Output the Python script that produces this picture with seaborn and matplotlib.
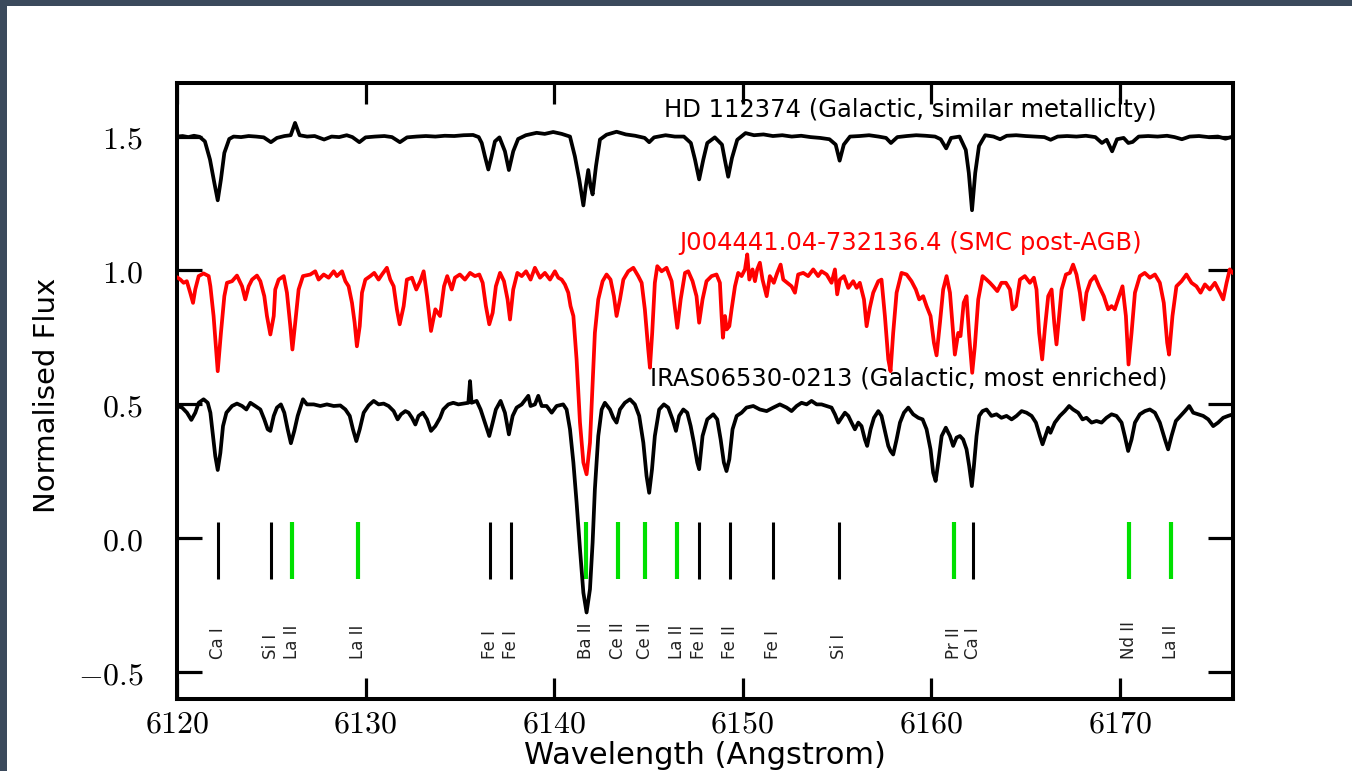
import numpy as np
import pandas as pd
import matplotlib
matplotlib.use("Agg")
import matplotlib.pyplot as plt
from matplotlib.patches import Rectangle
import seaborn as sns

# ---------------------------------------------------------------- data
# HD 112374 (Galactic, similar metallicity), shifted to 1.5
hd_wave = [6120.0, 6120.3, 6120.6, 6120.9, 6121.2, 6121.48, 6121.75, 6121.98, 6122.16, 6122.33,
           6122.51, 6122.77, 6123.0, 6123.4, 6123.8, 6124.2, 6124.6, 6124.98, 6125.3, 6125.7,
           6126.03, 6126.26, 6126.5, 6126.9, 6127.3, 6127.8, 6128.2, 6128.6, 6129.0, 6129.3,
           6129.67, 6130.0, 6130.5, 6131.0, 6131.4, 6131.82, 6132.2, 6132.7, 6133.2, 6133.7,
           6134.2, 6134.7, 6135.2, 6135.7, 6136.0, 6136.16, 6136.33, 6136.51, 6136.68, 6136.86,
           6137.1, 6137.39, 6137.6, 6137.83, 6138.09, 6138.5, 6139.07, 6139.5, 6139.95, 6140.4,
           6140.84, 6141.1, 6141.33, 6141.55, 6141.68, 6141.81, 6141.93, 6142.04, 6142.22, 6142.43,
           6142.78, 6143.31, 6143.8, 6144.3, 6144.8, 6145.04, 6145.3, 6145.91, 6146.4, 6146.88,
           6147.25, 6147.47, 6147.69, 6147.91, 6148.12, 6148.52, 6148.9, 6149.05, 6149.23, 6149.43,
           6149.71, 6150.15, 6150.6, 6151.1, 6151.6, 6152.1, 6152.6, 6153.1, 6153.6, 6154.1,
           6154.6, 6154.93, 6155.14, 6155.36, 6155.69, 6156.2, 6156.7, 6157.2, 6157.6, 6157.86,
           6158.2, 6158.7, 6159.2, 6159.7, 6160.2, 6160.5, 6160.79, 6161.05, 6161.5, 6161.83,
           6161.99, 6162.16, 6162.33, 6162.53, 6162.86, 6163.3, 6163.65, 6164.0, 6164.5, 6165.0,
           6165.5, 6166.0, 6166.33, 6166.7, 6167.2, 6167.7, 6168.2, 6168.7, 6169.05, 6169.3,
           6169.59, 6169.85, 6170.2, 6170.45, 6170.68, 6171.0, 6171.5, 6172.0, 6172.5, 6172.9,
           6173.29, 6173.7, 6174.2, 6174.7, 6175.2, 6175.6, 6176.0]
hd_flux = [1.500, 1.502, 1.498, 1.503, 1.499, 1.482, 1.414, 1.327, 1.262, 1.340,
           1.439, 1.491, 1.500, 1.498, 1.502, 1.500, 1.497, 1.479, 1.495, 1.502,
           1.505, 1.551, 1.505, 1.500, 1.502, 1.489, 1.500, 1.498, 1.505, 1.498,
           1.479, 1.497, 1.500, 1.502, 1.498, 1.479, 1.497, 1.500, 1.502, 1.500,
           1.503, 1.502, 1.505, 1.506, 1.498, 1.476, 1.426, 1.377, 1.426, 1.482,
           1.497, 1.445, 1.375, 1.445, 1.491, 1.505, 1.514, 1.510, 1.517, 1.510,
           1.500, 1.426, 1.340, 1.243, 1.315, 1.375, 1.315, 1.284, 1.390, 1.489,
           1.507, 1.518, 1.508, 1.503, 1.495, 1.479, 1.497, 1.505, 1.500, 1.500,
           1.476, 1.414, 1.340, 1.414, 1.476, 1.497, 1.470, 1.414, 1.350, 1.420,
           1.488, 1.513, 1.505, 1.508, 1.502, 1.505, 1.500, 1.503, 1.498, 1.495,
           1.490, 1.470, 1.410, 1.470, 1.500, 1.502, 1.505, 1.500, 1.495, 1.476,
           1.498, 1.502, 1.505, 1.503, 1.500, 1.490, 1.456, 1.495, 1.500, 1.450,
           1.364, 1.225, 1.364, 1.465, 1.505, 1.500, 1.490, 1.503, 1.505, 1.502,
           1.500, 1.498, 1.488, 1.500, 1.502, 1.500, 1.503, 1.498, 1.476, 1.488,
           1.445, 1.490, 1.495, 1.476, 1.480, 1.500, 1.502, 1.500, 1.503, 1.498,
           1.490, 1.500, 1.502, 1.498, 1.500, 1.492, 1.500]

# J004441.04-732136.4 (SMC post-AGB)
smc_wave = [6120.0, 6120.18, 6120.35, 6120.52, 6120.7, 6120.85, 6120.97, 6121.15, 6121.41, 6121.68,
            6121.77, 6121.94, 6122.16, 6122.33, 6122.51, 6122.65, 6122.92, 6123.18, 6123.45, 6123.62,
            6123.8, 6123.98, 6124.24, 6124.42, 6124.63, 6124.77, 6124.95, 6125.13, 6125.21, 6125.39,
            6125.66, 6125.83, 6126.01, 6126.12, 6126.27, 6126.45, 6126.68, 6127.07, 6127.33, 6127.51,
            6127.78, 6128.04, 6128.31, 6128.48, 6128.75, 6128.93, 6129.1, 6129.28, 6129.42, 6129.54,
            6129.69, 6129.81, 6129.99, 6130.25, 6130.46, 6130.69, 6130.87, 6131.13, 6131.31, 6131.49,
            6131.66, 6131.81, 6132.02, 6132.19, 6132.46, 6132.69, 6132.9, 6133.08, 6133.26, 6133.47,
            6133.7, 6133.95, 6134.16, 6134.33, 6134.57, 6134.74, 6135.0, 6135.27, 6135.54, 6135.8,
            6136.03, 6136.21, 6136.38, 6136.56, 6136.74, 6136.91, 6137.13, 6137.34, 6137.53, 6137.66,
            6137.83, 6138.05, 6138.28, 6138.51, 6138.75, 6138.98, 6139.25, 6139.51, 6139.78, 6140.04,
            6140.22, 6140.4, 6140.57, 6140.75, 6140.87, 6141.02, 6141.19, 6141.37, 6141.55, 6141.72,
            6141.9, 6142.04, 6142.16, 6142.34, 6142.57, 6142.78, 6142.99, 6143.17, 6143.31, 6143.49,
            6143.67, 6143.93, 6144.2, 6144.46, 6144.64, 6144.81, 6144.99, 6145.08, 6145.2, 6145.34,
            6145.47, 6145.7, 6145.96, 6146.23, 6146.41, 6146.53, 6146.71, 6146.94, 6147.11, 6147.34,
            6147.55, 6147.69, 6147.87, 6148.08, 6148.35, 6148.61, 6148.79, 6148.88, 6148.95, 6149.06,
            6149.15, 6149.29, 6149.41, 6149.59, 6149.76, 6149.94, 6150.12, 6150.24, 6150.35, 6150.52,
            6150.65, 6150.77, 6150.91, 6151.05, 6151.27, 6151.44, 6151.65, 6151.83, 6152.01, 6152.15,
            6152.36, 6152.59, 6152.77, 6152.94, 6153.21, 6153.47, 6153.74, 6154.0, 6154.18, 6154.45,
            6154.71, 6154.89, 6155.01, 6155.15, 6155.37, 6155.6, 6155.86, 6156.04, 6156.21, 6156.43,
            6156.57, 6156.74, 6156.92, 6157.19, 6157.36, 6157.54, 6157.72, 6157.84, 6157.98, 6158.16,
            6158.42, 6158.69, 6158.95, 6159.18, 6159.36, 6159.57, 6159.75, 6159.96, 6160.14, 6160.28,
            6160.46, 6160.63, 6160.81, 6160.99, 6161.13, 6161.25, 6161.43, 6161.55, 6161.72, 6161.87,
            6162.01, 6162.17, 6162.31, 6162.49, 6162.72, 6162.93, 6163.11, 6163.28, 6163.5, 6163.72,
            6163.96, 6164.17, 6164.31, 6164.49, 6164.7, 6164.96, 6165.23, 6165.44, 6165.58, 6165.72,
            6165.88, 6166.02, 6166.2, 6166.38, 6166.52, 6166.64, 6166.78, 6166.91, 6167.14, 6167.35,
            6167.52, 6167.7, 6167.88, 6168.06, 6168.23, 6168.44, 6168.67, 6168.9, 6169.15, 6169.38,
            6169.56, 6169.73, 6169.96, 6170.14, 6170.32, 6170.46, 6170.62, 6170.8, 6171.06, 6171.32,
            6171.59, 6171.86, 6172.12, 6172.33, 6172.51, 6172.61, 6172.79, 6173.0, 6173.27, 6173.53,
            6173.8, 6174.06, 6174.28, 6174.51, 6174.77, 6175.04, 6175.31, 6175.48, 6175.66, 6175.83,
            6176.0]
smc_flux = [0.975, 0.966, 0.954, 0.960, 0.917, 0.879, 0.930, 0.979, 0.989, 0.979,
            0.941, 0.830, 0.624, 0.767, 0.904, 0.954, 0.960, 0.981, 0.941, 0.892,
            0.941, 0.966, 0.981, 0.960, 0.904, 0.830, 0.761, 0.830, 0.929, 0.966,
            0.979, 0.917, 0.792, 0.705, 0.805, 0.929, 0.979, 0.985, 0.997, 0.966,
            0.985, 0.973, 0.997, 0.979, 0.997, 0.960, 0.941, 0.879, 0.805, 0.717,
            0.792, 0.917, 0.966, 0.979, 0.991, 0.966, 0.985, 1.010, 0.966, 0.941,
            0.855, 0.799, 0.867, 0.966, 0.973, 0.929, 0.960, 0.997, 0.904, 0.774,
            0.855, 0.830, 0.941, 0.979, 0.929, 0.973, 0.985, 0.966, 0.991, 0.979,
            0.985, 0.954, 0.867, 0.799, 0.842, 0.941, 0.991, 0.960, 0.892, 0.817,
            0.929, 0.991, 0.979, 0.997, 0.966, 1.010, 0.973, 0.991, 0.966, 0.997,
            0.973, 0.966, 0.948, 0.917, 0.867, 0.830, 0.668, 0.432, 0.283, 0.239,
            0.357, 0.581, 0.767, 0.892, 0.960, 0.985, 0.966, 0.904, 0.830, 0.892,
            0.966, 0.997, 1.010, 0.979, 0.954, 0.855, 0.705, 0.637, 0.767, 0.954,
            1.016, 0.997, 1.010, 0.960, 0.855, 0.786, 0.892, 0.991, 0.997, 0.960,
            0.904, 0.805, 0.892, 0.960, 0.979, 0.985, 0.954, 0.830, 0.749, 0.830,
            0.780, 0.792, 0.855, 0.941, 0.991, 0.979, 1.004, 1.060, 0.966, 1.004,
            0.960, 1.004, 1.029, 0.966, 0.904, 0.979, 0.954, 0.991, 1.022, 0.966,
            0.954, 0.941, 0.917, 0.985, 0.991, 0.979, 1.004, 0.979, 0.997, 0.985,
            0.954, 1.004, 0.911, 0.966, 0.979, 0.935, 0.960, 0.935, 0.954, 0.892,
            0.792, 0.861, 0.917, 0.960, 0.966, 0.830, 0.668, 0.624, 0.767, 0.917,
            0.991, 0.985, 0.960, 0.929, 0.892, 0.904, 0.867, 0.830, 0.730, 0.683,
            0.805, 0.929, 0.979, 0.917, 0.792, 0.686, 0.767, 0.755, 0.880, 0.904,
            0.755, 0.618, 0.717, 0.892, 0.979, 0.966, 0.954, 0.941, 0.923, 0.954,
            0.954, 0.929, 0.855, 0.867, 0.966, 0.979, 0.954, 0.973, 0.929, 0.767,
            0.668, 0.780, 0.904, 0.929, 0.805, 0.724, 0.830, 0.929, 0.985, 0.991,
            1.022, 0.985, 0.917, 0.817, 0.917, 0.960, 0.979, 0.941, 0.904, 0.855,
            0.867, 0.855, 0.904, 0.941, 0.830, 0.649, 0.767, 0.917, 0.979, 0.991,
            0.973, 0.985, 0.954, 0.879, 0.730, 0.686, 0.830, 0.941, 0.960, 0.985,
            0.954, 0.941, 0.917, 0.948, 0.929, 0.954, 0.917, 0.892, 0.954, 1.004,
            0.990]

# IRAS06530-0213 (Galactic, most enriched), shifted to 0.5
iras_wave = [6120.0, 6120.27, 6120.53, 6120.76, 6120.97, 6121.15, 6121.41, 6121.63, 6121.77, 6121.91,
             6122.03, 6122.16, 6122.3, 6122.44, 6122.62, 6122.92, 6123.18, 6123.45, 6123.68, 6123.89,
             6124.15, 6124.42, 6124.63, 6124.81, 6124.95, 6125.13, 6125.3, 6125.51, 6125.69, 6125.87,
             6126.04, 6126.22, 6126.4, 6126.57, 6126.68, 6126.89, 6127.25, 6127.6, 6127.95, 6128.31,
             6128.66, 6128.93, 6129.16, 6129.33, 6129.51, 6129.69, 6129.9, 6130.16, 6130.43, 6130.69,
             6130.96, 6131.22, 6131.49, 6131.7, 6131.88, 6132.11, 6132.28, 6132.46, 6132.64, 6132.81,
             6133.04, 6133.26, 6133.47, 6133.7, 6133.95, 6134.12, 6134.39, 6134.65, 6134.92, 6135.18,
             6135.45, 6135.54, 6135.62, 6135.89, 6136.1, 6136.33, 6136.56, 6136.74, 6136.91, 6137.16,
             6137.39, 6137.6, 6137.8, 6138.01, 6138.28, 6138.63, 6138.75, 6138.98, 6139.16, 6139.34,
             6139.6, 6139.87, 6140.13, 6140.48, 6140.66, 6140.84, 6141.02, 6141.19, 6141.37, 6141.55,
             6141.72, 6141.9, 6142.04, 6142.16, 6142.34, 6142.52, 6142.69, 6142.96, 6143.14, 6143.31,
             6143.49, 6143.75, 6144.02, 6144.28, 6144.51, 6144.73, 6144.9, 6145.04, 6145.19, 6145.34,
             6145.57, 6145.82, 6146.05, 6146.28, 6146.46, 6146.63, 6146.85, 6147.06, 6147.24, 6147.41,
             6147.59, 6147.69, 6147.87, 6148.12, 6148.44, 6148.65, 6148.83, 6149.0, 6149.14, 6149.29,
             6149.46, 6149.68, 6149.94, 6150.2, 6150.56, 6150.91, 6151.27, 6151.62, 6151.97, 6152.33,
             6152.59, 6152.86, 6153.12, 6153.39, 6153.65, 6153.92, 6154.18, 6154.45, 6154.71, 6154.89,
             6155.07, 6155.24, 6155.42, 6155.6, 6155.77, 6155.95, 6156.13, 6156.3, 6156.48, 6156.6,
             6156.78, 6156.96, 6157.19, 6157.36, 6157.54, 6157.72, 6157.84, 6157.98, 6158.16, 6158.34,
             6158.55, 6158.78, 6159.04, 6159.31, 6159.54, 6159.75, 6159.96, 6160.1, 6160.23, 6160.37,
             6160.55, 6160.77, 6160.99, 6161.16, 6161.34, 6161.52, 6161.69, 6161.87, 6162.01, 6162.15,
             6162.26, 6162.4, 6162.54, 6162.72, 6162.93, 6163.19, 6163.46, 6163.72, 6163.99, 6164.26,
             6164.52, 6164.79, 6165.05, 6165.32, 6165.55, 6165.76, 6165.9, 6166.08, 6166.2, 6166.32,
             6166.55, 6166.82, 6167.08, 6167.31, 6167.52, 6167.79, 6168.02, 6168.23, 6168.5, 6168.76,
             6169.03, 6169.29, 6169.56, 6169.82, 6170.09, 6170.26, 6170.44, 6170.62, 6170.8, 6171.06,
             6171.33, 6171.59, 6171.86, 6172.12, 6172.39, 6172.56, 6172.74, 6172.97, 6173.22, 6173.45,
             6173.68, 6173.89, 6174.16, 6174.42, 6174.69, 6174.95, 6175.21, 6175.48, 6175.74, 6176.0]
iras_flux = [0.494, 0.488, 0.469, 0.442, 0.469, 0.506, 0.519, 0.506, 0.469, 0.382,
             0.307, 0.255, 0.319, 0.419, 0.469, 0.494, 0.503, 0.494, 0.481, 0.506,
             0.494, 0.481, 0.444, 0.407, 0.401, 0.457, 0.488, 0.500, 0.469, 0.407,
             0.355, 0.401, 0.457, 0.494, 0.519, 0.500, 0.500, 0.494, 0.500, 0.494,
             0.496, 0.481, 0.457, 0.407, 0.363, 0.407, 0.469, 0.496, 0.513, 0.500,
             0.503, 0.494, 0.475, 0.444, 0.463, 0.475, 0.469, 0.450, 0.425, 0.457,
             0.469, 0.444, 0.401, 0.419, 0.450, 0.481, 0.500, 0.506, 0.500, 0.503,
             0.506, 0.587, 0.506, 0.513, 0.481, 0.432, 0.382, 0.432, 0.481, 0.513,
             0.469, 0.388, 0.457, 0.488, 0.500, 0.532, 0.494, 0.500, 0.532, 0.494,
             0.494, 0.469, 0.494, 0.500, 0.481, 0.407, 0.283, 0.134, -0.040, -0.203,
             -0.277, -0.190, -0.016, 0.183, 0.382, 0.481, 0.506, 0.481, 0.450, 0.432,
             0.481, 0.506, 0.519, 0.500, 0.457, 0.357, 0.233, 0.170, 0.258, 0.382,
             0.481, 0.500, 0.488, 0.444, 0.401, 0.457, 0.481, 0.469, 0.419, 0.357,
             0.283, 0.258, 0.382, 0.444, 0.463, 0.444, 0.369, 0.283, 0.251, 0.295,
             0.407, 0.457, 0.469, 0.488, 0.494, 0.481, 0.475, 0.488, 0.500, 0.488,
             0.475, 0.494, 0.506, 0.500, 0.513, 0.500, 0.500, 0.494, 0.488, 0.463,
             0.432, 0.450, 0.469, 0.457, 0.432, 0.407, 0.432, 0.419, 0.369, 0.345,
             0.407, 0.450, 0.475, 0.457, 0.401, 0.345, 0.326, 0.313, 0.369, 0.432,
             0.469, 0.488, 0.463, 0.450, 0.444, 0.407, 0.332, 0.245, 0.214, 0.283,
             0.382, 0.413, 0.382, 0.345, 0.376, 0.382, 0.369, 0.332, 0.270, 0.195,
             0.270, 0.382, 0.457, 0.475, 0.481, 0.457, 0.463, 0.450, 0.457, 0.444,
             0.457, 0.475, 0.469, 0.457, 0.432, 0.382, 0.351, 0.388, 0.413, 0.394,
             0.432, 0.457, 0.475, 0.494, 0.481, 0.469, 0.444, 0.450, 0.432, 0.438,
             0.432, 0.450, 0.463, 0.457, 0.432, 0.382, 0.326, 0.369, 0.432, 0.463,
             0.475, 0.481, 0.469, 0.432, 0.369, 0.332, 0.382, 0.438, 0.457, 0.475,
             0.494, 0.469, 0.463, 0.457, 0.444, 0.419, 0.432, 0.450, 0.457, 0.463]

# identified lines
line_wave = [6122.2, 6125.0, 6126.1, 6129.6, 6136.6, 6137.7, 6141.7, 6143.4, 6144.8,
             6146.5, 6147.7, 6149.3, 6151.6, 6155.1, 6161.2, 6162.2, 6170.5, 6172.7]
line_label = ["Ca I", "Si I", "La II", "La II", "Fe I", "Fe I", "Ba II", "Ce II", "Ce II",
              "La II", "Fe II", "Fe II", "Fe I", "Si I", "Pr II", "Ca I", "Nd II", "La II"]
line_is_s = [False, False, True, True, False, False, True, True, True,
             True, False, False, False, False, True, False, True, True]

star_names = ["HD 112374 (Galactic, similar metallicity)",
              "J004441.04-732136.4 (SMC post-AGB)",
              "IRAS06530-0213 (Galactic, most enriched)"]

x_ticks = [6120, 6130, 6140, 6150, 6160, 6170]
x_tick_labels = ["6120", "6130", "6140", "6150", "6160", "6170"]
y_ticks = [-0.5, 0.0, 0.5, 1.0, 1.5]
y_tick_labels = ["-0.5", "0.0", "0.5", "1.0", "1.5"]

# ---------------------------------------------------------------- style
sns.set_theme(style="ticks")
plt.rcParams["font.family"] = ["DejaVu Sans"]
plt.rcParams["mathtext.fontset"] = "cm"

SPEC_LW = 2.7
GREEN = "#00e000"

fig = plt.figure(figsize=(13.52, 7.71), dpi=100)
fig.patch.set_facecolor("white")
# dark frame strips along top and left edge
fig.patches.append(Rectangle((0, 1 - 6 / 771), 1, 6 / 771, transform=fig.transFigure,
                             facecolor="#3b4a5c", edgecolor="none", zorder=10))
fig.patches.append(Rectangle((0, 0), 7 / 1352, 1, transform=fig.transFigure,
                             facecolor="#3b4a5c", edgecolor="none", zorder=10))

ax = fig.add_axes([177 / 1352, 1 - 699 / 771, 1056 / 1352, 616 / 771])
ax.set_facecolor("white")

# line identification bars
for w, s in zip(line_wave, line_is_s):
    ax.vlines(w, -0.153, 0.06, colors=GREEN if s else "black",
              linewidth=3.0 if s else 2.2, zorder=2)
for w, lab in zip(line_wave, line_label):
    ax.text(w, -0.451, lab, rotation=90, ha="center", va="bottom",
            fontsize=12, color="#222222", zorder=2)

# spectra
spectra = pd.concat([
    pd.DataFrame({"wave": hd_wave, "flux": hd_flux, "star": star_names[0]}),
    pd.DataFrame({"wave": smc_wave, "flux": smc_flux, "star": star_names[1]}),
    pd.DataFrame({"wave": iras_wave, "flux": iras_flux, "star": star_names[2]}),
], ignore_index=True)
palette = {star_names[0]: "black", star_names[1]: "#ff0000", star_names[2]: "black"}
sns.lineplot(data=spectra, x="wave", y="flux", hue="star", palette=palette,
             estimator=None, sort=False, linewidth=SPEC_LW, legend=False, ax=ax, zorder=3)

# star names
ax.text(6158.87, 1.601, star_names[0], ha="center", va="center", fontsize=17.5,
        color="black", zorder=2.5)
ax.text(6158.92, 1.104, star_names[1], ha="center", va="center", fontsize=17.5,
        color="#ff0000", zorder=2.5)
ax.text(6158.81, 0.597, star_names[2], ha="center", va="center", fontsize=17.5,
        color="black", zorder=2.5)

# axes
ax.set_xlim(6120, 6176)
ax.set_ylim(-0.6, 1.7)
ax.set_xticks(x_ticks)
ax.set_xticklabels([f"${t}$" for t in x_tick_labels])
ax.set_yticks(y_ticks)
ax.set_yticklabels([f"${t}$" for t in y_tick_labels])
ax.tick_params(which="major", direction="in", top=True, right=True, width=2.3,
               labelsize=23, color="black", labelcolor="black")
ax.tick_params(axis="x", length=15, pad=7)
ax.tick_params(axis="y", length=18, pad=24)
for sp in ax.spines.values():
    sp.set_linewidth(2.9)
    sp.set_color("black")
    sp.set_visible(True)

ax.set_xlabel("Wavelength (Angstrom)", fontsize=22, color="black")
ax.xaxis.label.set_va("baseline")
ax.xaxis.set_label_coords(0.5, (699 - 764) / 616)
ax.set_ylabel("Normalised Flux", fontsize=21, color="black")
ax.yaxis.label.set_va("center")
ax.yaxis.set_label_coords((47 - 177) / 1056, (699 - 395) / 616)

fig.savefig("out.png", dpi=100, facecolor="white")
